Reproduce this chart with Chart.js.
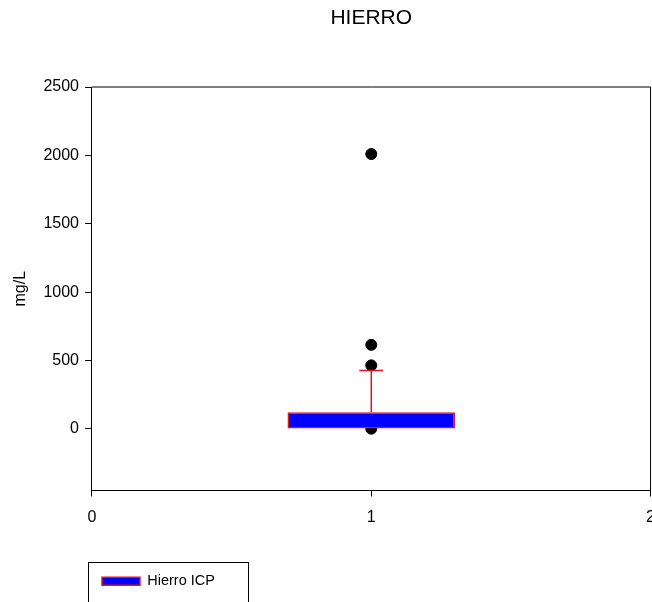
<!DOCTYPE html>
<html>
<head>
<meta charset="utf-8">
<title>HIERRO</title>
<script src="https://cdn.jsdelivr.net/npm/chart.js@4.4.1/dist/chart.umd.min.js"></script>
<style>
  html, body { margin: 0; padding: 0; background: #fff; overflow: hidden; width: 652px; height: 602px; }
  #wrap { position: relative; width: 666px; height: 602px; }
</style>
</head>
<body>
<div id="wrap"><canvas id="chart"></canvas></div>
<script>
// Box plot of iron (mg/L) measured by ICP
const seriesName = 'Hierro ICP';
const boxPosition = [1];
const lowerQuartile = [0];
const upperQuartile = [122];
const upperWhisker = [428];
const outlierValues = [2010, 615, 465, 2];
const yTickValues = [0, 500, 1000, 1500, 2000, 2500];
const xTickValues = [0, 1, 2];

const CAP_HALF = 0.043;
const FONT = "Arial, 'Liberation Sans', sans-serif";
const BOX_FILL = '#0000ff';
const BOX_EDGE = '#e0151b';

const x0 = boxPosition[0];

// plot frame (top/right edges) and legend frame
const framePlugin = {
  id: 'frame',
  afterDraw(chart) {
    const { ctx, chartArea: a, legend } = chart;
    ctx.save();
    ctx.strokeStyle = '#000';
    ctx.lineWidth = 1;
    ctx.beginPath();
    ctx.moveTo(a.left, a.top);
    ctx.lineTo(a.right, a.top);
    ctx.lineTo(a.right, a.bottom);
    ctx.stroke();
    if (legend) {
      ctx.strokeRect(Math.round(legend.left) - 3.5, Math.round(legend.top) - 1.5, 160, 200);
    }
    ctx.restore();
  }
};

new Chart(document.getElementById('chart'), {
  type: 'scatter',
  data: {
    datasets: [
      {
        type: 'bar',
        label: seriesName,
        data: boxPosition.map((p, i) => ({ x: p, y: [lowerQuartile[i], upperQuartile[i]] })),
        backgroundColor: BOX_FILL,
        borderColor: BOX_EDGE,
        borderWidth: 1.5,
        borderSkipped: false,
        barPercentage: 0.6,
        categoryPercentage: 1,
        order: 2
      },
      {
        type: 'line',
        label: 'whisker',
        data: [{ x: x0, y: upperQuartile[0] }, { x: x0, y: upperWhisker[0] }],
        borderColor: BOX_EDGE,
        borderWidth: 1.5,
        pointRadius: 0,
        fill: false,
        order: 1
      },
      {
        type: 'line',
        label: 'cap',
        data: [{ x: x0 - CAP_HALF, y: upperWhisker[0] }, { x: x0 + CAP_HALF, y: upperWhisker[0] }],
        borderColor: BOX_EDGE,
        borderWidth: 1.5,
        pointRadius: 0,
        fill: false,
        order: 1
      },
      {
        label: 'outliers',
        data: outlierValues.map(v => ({ x: x0, y: v })),
        backgroundColor: '#000',
        borderColor: '#000',
        pointRadius: 5.5,
        order: 5
      }
    ]
  },
  options: {
    responsive: true,
    maintainAspectRatio: false,
    animation: false,
    events: [],
    layout: { padding: { top: 0, right: 0, bottom: 3.5, left: 0 } },
    scales: {
      x: {
        type: 'linear',
        min: 0,
        max: 2,
        offset: false,
        afterBuildTicks: s => { s.ticks = xTickValues.map(v => ({ value: v })); },
        afterFit: s => { s.height = 73.5; },
        grid: { display: true, offset: false, drawOnChartArea: false, drawTicks: true, tickLength: 6, color: '#000' },
        border: { display: true, color: '#000', width: 1 },
        ticks: { color: '#000', font: { family: FONT, size: 16 }, padding: 11, maxRotation: 0, callback: v => String(v) }
      },
      y: {
        type: 'linear',
        min: -450,
        max: 2500,
        afterBuildTicks: s => { s.ticks = yTickValues.map(v => ({ value: v })); },
        grid: { display: true, drawOnChartArea: false, drawTicks: true, tickLength: 7, color: '#000' },
        border: { display: true, color: '#000', width: 1 },
        ticks: { color: '#000', font: { family: FONT, size: 16 }, padding: 6, callback: v => String(v) },
        title: {
          display: true,
          text: 'mg/L',
          color: '#000',
          font: { family: FONT, size: 16 },
          padding: { top: 11.4, bottom: 6.8 }
        }
      }
    },
    plugins: {
      title: {
        display: true,
        text: 'HIERRO',
        color: '#000',
        fullSize: false,
        font: { family: FONT, size: 21, weight: 'normal' },
        padding: { top: 6, bottom: 55.8 }
      },
      legend: {
        display: true,
        position: 'bottom',
        align: 'start',
        fullSize: false,
        labels: {
          color: '#000',
          font: { family: FONT, size: 14.5 },
          boxWidth: 38,
          boxHeight: 8,
          padding: 10,
          filter: item => item.datasetIndex === 0
        }
      },
      tooltip: { enabled: false }
    }
  },
  plugins: [framePlugin]
});
</script>
</body>
</html>
